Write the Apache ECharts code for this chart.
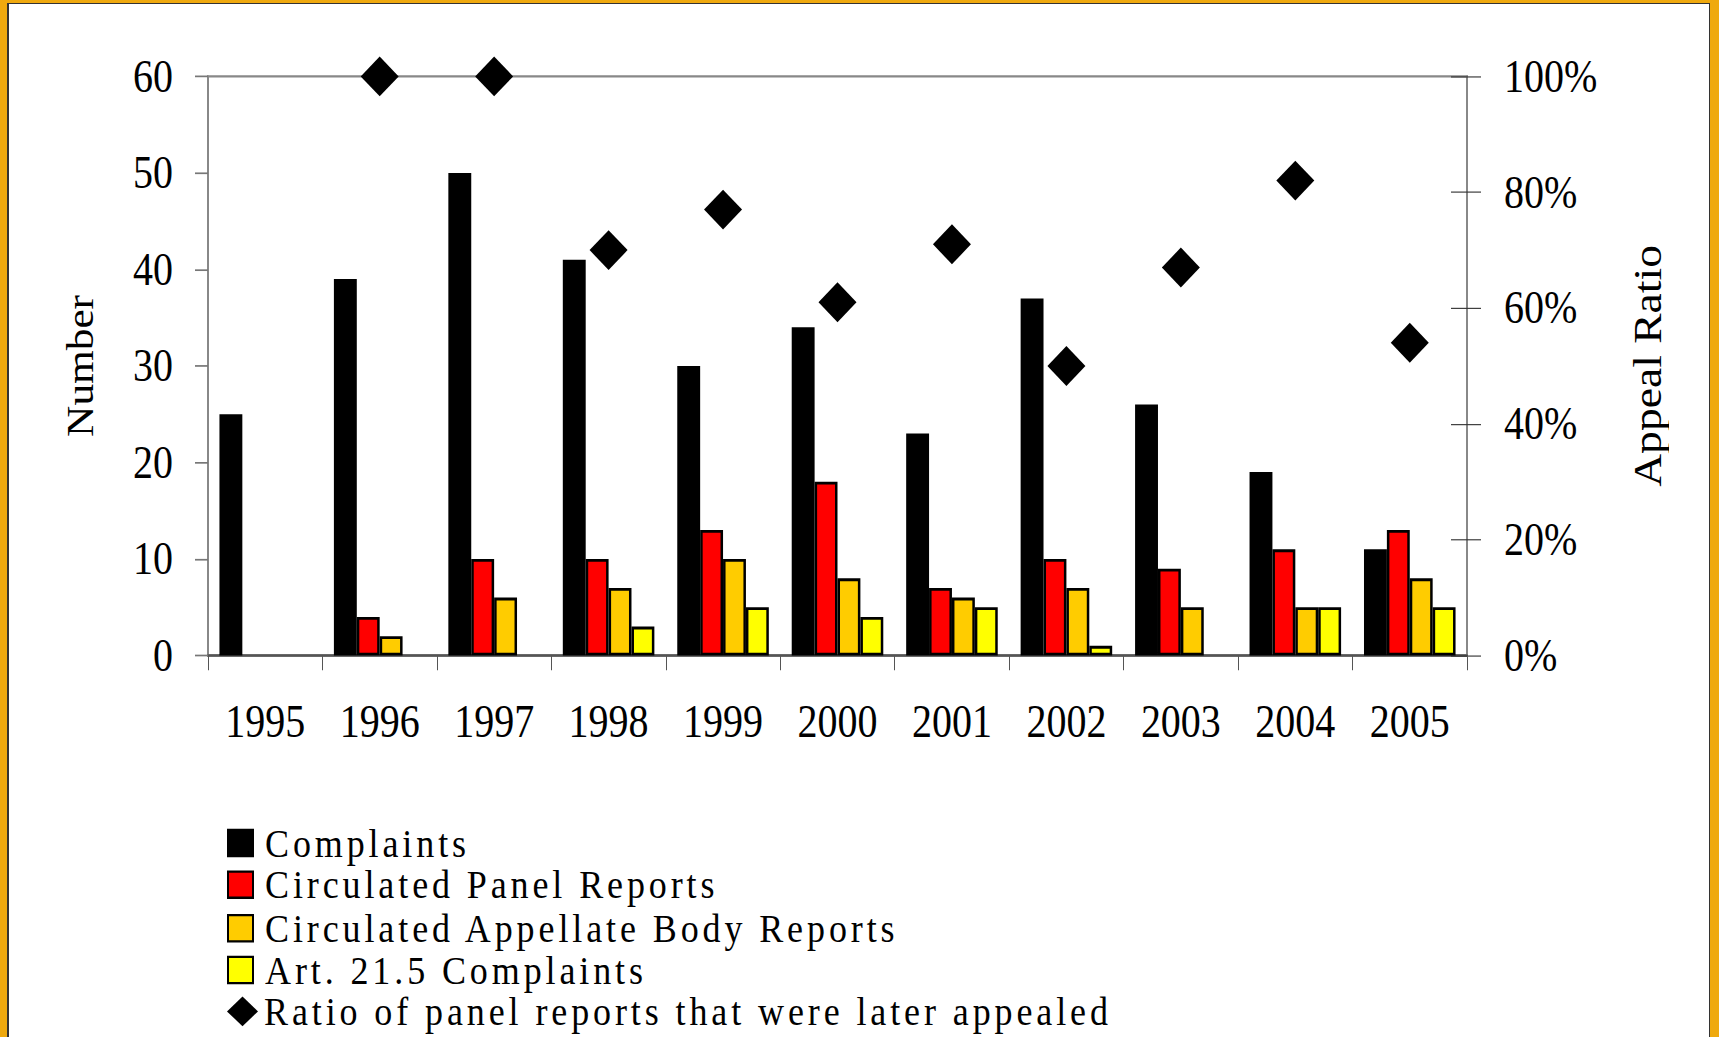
<!DOCTYPE html>
<html>
<head>
<meta charset="utf-8">
<script src="https://cdn.jsdelivr.net/npm/echarts@6/dist/echarts.min.js"></script>
<style>
  html, body { margin: 0; padding: 0; width: 1719px; height: 1037px; overflow: hidden; background: #EFA90E; }
  #panel { position: absolute; left: 7px; top: 3px; width: 1700px; height: 1100px; background: #fff;
           border-left: 2px solid #333; border-top: 1px solid #333; border-right: 1px solid #333; }
  #c { position: absolute; left: 0; top: 0; width: 1719px; height: 910px;
       transform: scaleY(1.14); transform-origin: 0 0; }
</style>
</head>
<body>
<div id="panel"></div>
<div id="c"></div>
<script>
// ---- data ----
const years = ['1995', '1996', '1997', '1998', '1999', '2000', '2001', '2002', '2003', '2004', '2005'];
const complaints = [25, 39, 50, 41, 30, 34, 23, 37, 26, 19, 11];
const panelReports = [null, 4, 10, 10, 13, 18, 7, 10, 9, 11, 13];
const appellateReports = [null, 2, 6, 7, 10, 8, 6, 7, 5, 5, 8];
const art215Complaints = [null, null, null, 3, 5, 4, 5, 1, null, 5, 5];
const appealRatio = [null, 100, 100, 70, 77, 61, 71, 50, 67, 82, 54]; // percent
const seriesNames = ['Complaints', 'Circulated Panel Reports', 'Circulated Appellate Body Reports',
                     'Art. 21.5 Complaints', 'Ratio of panel reports that were later appealed'];
const legendIcons = ['rect', 'rect', 'rect', 'rect', 'diamond'];

const FONT = "'Liberation Serif', 'Times New Roman', serif";
const chart = echarts.init(document.getElementById('c'), null, { renderer: 'svg', width: 1719, height: 910 });

function barSeries(name, data, color) {
  return {
    name: name, type: 'bar', data: data, yAxisIndex: 0,
    barGap: '0%', barCategoryGap: '20%',
    itemStyle: { color: color, borderColor: '#000', borderWidth: 2.5 }
  };
}

// one legend block per row so the rows can sit as tightly as in the reference
const legendTops = [721.5, 758.0, 796.3, 832.8, 869.2];
const legends = seriesNames.map(function (name, i) {
  const isDiamond = legendIcons[i] === 'diamond';
  return {
    orient: 'vertical', left: 227, top: legendTops[i], padding: 0,
    itemWidth: isDiamond ? 31 : 25, itemHeight: isDiamond ? 26 : 23,
    textStyle: { fontFamily: FONT, fontSize: 36, lineHeight: 36, color: '#000', padding: [0, 0, 0, isDiamond ? 1 : 7] },
    data: [{ name: name, icon: legendIcons[i] }]
  };
});

chart.setOption({
  animation: false,
  backgroundColor: 'transparent',
  textStyle: { fontFamily: FONT, color: '#000' },
  grid: { left: 208, right: 252, top: 67, bottom: 335, show: true, borderColor: '#888', borderWidth: 2, backgroundColor: 'transparent' },
  legend: legends,
  xAxis: {
    type: 'category', data: years, boundaryGap: true,
    axisLine: { lineStyle: { color: '#555', width: 2 } },
    axisTick: { show: true, alignWithLabel: false, length: 13, lineStyle: { color: '#555', width: 1 } },
    axisLabel: { fontFamily: FONT, fontSize: 40, color: '#000', margin: 38 },
    splitLine: { show: false }
  },
  yAxis: [
    {
      type: 'value', min: 0, max: 60, interval: 10, position: 'left',
      name: 'Number', nameLocation: 'middle', nameRotate: 90, nameGap: 109,
      nameTextStyle: { fontFamily: FONT, fontSize: 38, color: '#000' },
      axisLine: { show: true, lineStyle: { color: '#888', width: 2 } },
      axisTick: { show: true, length: 13, lineStyle: { color: '#777', width: 1.5 } },
      axisLabel: { fontFamily: FONT, fontSize: 40, color: '#000', margin: 35 },
      splitLine: { show: false }
    },
    {
      type: 'value', min: 0, max: 100, interval: 20, position: 'right',
      name: 'Appeal Ratio', nameLocation: 'middle', nameRotate: 90, nameGap: 160,
      nameTextStyle: { fontFamily: FONT, fontSize: 40, color: '#000' },
      axisLine: { show: true, lineStyle: { color: '#888', width: 2 } },
      axisTick: { show: true, length: 14, lineStyle: { color: '#333', width: 1 } },
      axisLabel: { fontFamily: FONT, fontSize: 40, color: '#000', margin: 37, formatter: '{value}%' },
      splitLine: { show: false }
    },
    {
      type: 'value', min: 0, max: 100, interval: 20, position: 'right',
      axisLine: { show: false },
      axisTick: { show: true, inside: true, length: 16, lineStyle: { color: '#333', width: 1 } },
      axisLabel: { show: false },
      splitLine: { show: false }
    }
  ],
  series: [
    barSeries(seriesNames[0], complaints, '#000000'),
    barSeries(seriesNames[1], panelReports, '#FF0000'),
    barSeries(seriesNames[2], appellateReports, '#FFCC00'),
    barSeries(seriesNames[3], art215Complaints, '#FFFF00'),
    {
      name: seriesNames[4], type: 'scatter', yAxisIndex: 1, data: appealRatio,
      symbol: 'diamond', symbolSize: [38, 35], clip: false, z: 5,
      itemStyle: { color: '#000', opacity: 1 }
    }
  ]
});

// the reference legend text is set with wide tracking
function trackLegend() {
  const nodes = document.querySelectorAll('#c svg text');
  nodes.forEach(function (t) {
    if (seriesNames.indexOf(t.textContent) >= 0) t.style.letterSpacing = '3.9px';
  });
}
chart.on('finished', trackLegend);
trackLegend();
setTimeout(trackLegend, 30);
setTimeout(trackLegend, 200);
</script>
</body>
</html>
